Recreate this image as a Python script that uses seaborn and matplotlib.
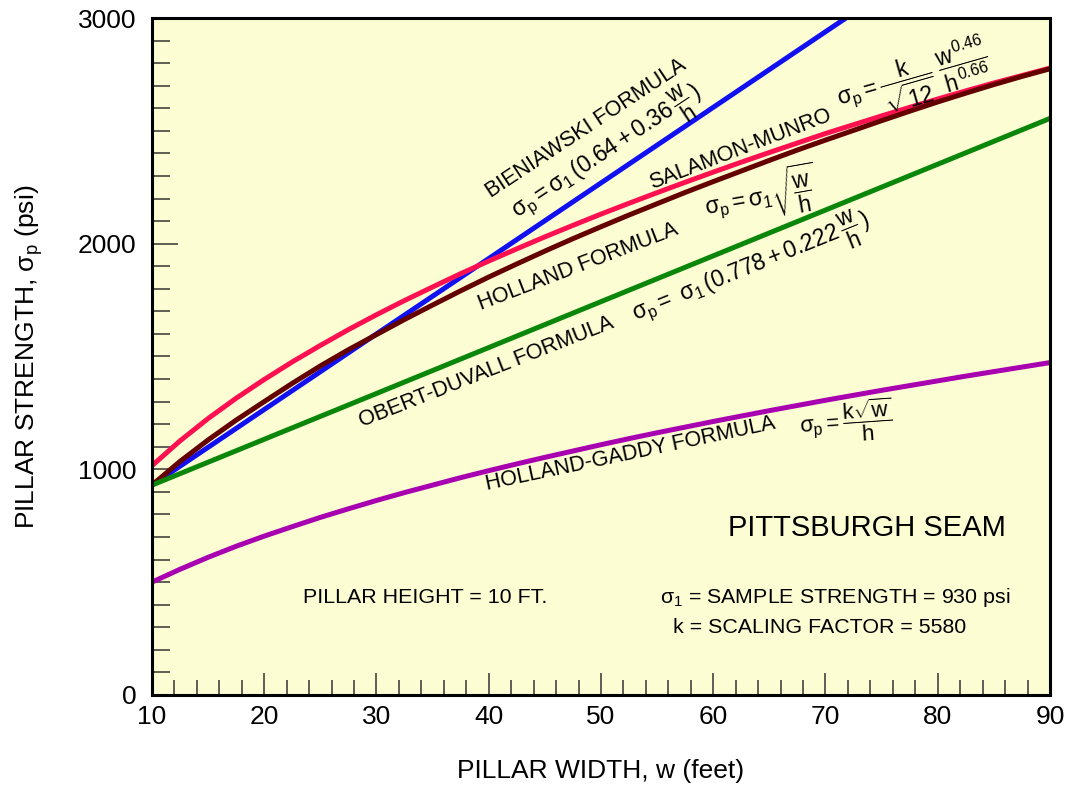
import matplotlib
matplotlib.use("Agg")
from matplotlib import pyplot as plt
from matplotlib.ticker import MultipleLocator
import pandas as pd
import seaborn as sns

# pillar width (ft) and strength (psi)
width = [10, 12.5, 15, 17.5, 20, 22.5, 25, 27.5, 30, 32.5, 35, 37.5, 40, 42.5, 45, 47.5, 50,
         52.5, 55, 57.5, 60, 62.5, 65, 67.5, 70, 72.5, 75, 77.5, 80, 82.5, 85, 87.5, 90]
bien_width = [10, 20, 30, 40, 50, 60, 70, 75]
bieniawski = [930, 1265, 1600, 1934, 2269, 2604, 2939, 3106]
salamon = [1016, 1126, 1225, 1315, 1398, 1476, 1549, 1619, 1685, 1748, 1808, 1867, 1923,
           1977, 2030, 2081, 2131, 2179, 2226, 2272, 2317, 2361, 2404, 2446, 2488, 2527,
           2566, 2604, 2641, 2677, 2712, 2745, 2778]
holland = [930, 1035, 1130, 1218, 1300, 1381, 1458, 1530, 1597, 1664, 1728, 1791, 1852,
           1910, 1967, 2022, 2075, 2127, 2177, 2227, 2275, 2322, 2369, 2415, 2459, 2502,
           2545, 2587, 2628, 2667, 2705, 2741, 2775]
obert_width = [10, 30, 50, 70, 90]
obert = [930, 1336, 1743, 2149, 2555]
gaddy = [500, 557, 610, 659, 704, 746, 787, 825, 862, 897, 930, 963, 994, 1024, 1053, 1081,
         1109, 1136, 1162, 1187, 1212, 1236, 1260, 1283, 1306, 1328, 1350, 1371, 1392, 1413,
         1433, 1453, 1473]

colors = {
    "Bieniawski": "#1010F0",
    "Salamon-Munro": "#FF1050",
    "Holland": "#640000",
    "Obert-Duvall": "#0A870A",
    "Holland-Gaddy": "#A800B0",
}

frames = [
    pd.DataFrame({"width": bien_width, "strength": bieniawski, "formula": "Bieniawski"}),
    pd.DataFrame({"width": width, "strength": salamon, "formula": "Salamon-Munro"}),
    pd.DataFrame({"width": width, "strength": holland, "formula": "Holland"}),
    pd.DataFrame({"width": obert_width, "strength": obert, "formula": "Obert-Duvall"}),
    pd.DataFrame({"width": width, "strength": gaddy, "formula": "Holland-Gaddy"}),
]
df = pd.concat(frames, ignore_index=True)

sns.set_theme(style="ticks")
plt.rcParams["font.family"] = ["Liberation Sans", "DejaVu Sans"]
plt.rcParams["mathtext.fontset"] = "custom"
plt.rcParams["mathtext.rm"] = "Liberation Sans"
plt.rcParams["mathtext.it"] = "Liberation Sans"
plt.rcParams["mathtext.bf"] = "Liberation Sans:bold"
plt.rcParams["text.color"] = "black"
plt.rcParams["axes.labelcolor"] = "black"
plt.rcParams["xtick.color"] = "black"
plt.rcParams["ytick.color"] = "black"

fig = plt.figure(figsize=(10.7, 7.93), dpi=100)
ax = fig.add_axes([0.142, 0.1236, 0.8393, 0.8537])
ax.set_facecolor("#FDFDD4")

sns.lineplot(data=df, x="width", y="strength", hue="formula", palette=colors,
             linewidth=3.6, legend=False, estimator=None, sort=False, ax=ax)

ax.set_xlim(10, 90)
ax.set_ylim(0, 3000)
ax.xaxis.set_major_locator(MultipleLocator(10))
ax.xaxis.set_minor_locator(MultipleLocator(2))
ax.yaxis.set_major_locator(MultipleLocator(1000))
ax.yaxis.set_minor_locator(MultipleLocator(100))
ax.tick_params(axis="x", which="major", direction="in", length=16, width=1.1, color="#333333",
               labelsize=19, pad=7)
ax.tick_params(axis="x", which="minor", direction="in", length=11, width=1.1, color="#333333")
ax.tick_params(axis="y", which="major", direction="in", length=19, width=1.1, color="#333333",
               labelsize=19, pad=11)
ax.tick_params(axis="y", which="minor", direction="in", length=13, width=1.1, color="#333333")
for s in ax.spines.values():
    s.set_linewidth(2.2)
    s.set_color("black")

ax.set_xlabel("PILLAR WIDTH, w (feet)", fontsize=19, labelpad=22)
ax.set_ylabel(r"PILLAR STRENGTH, $\sigma_\mathrm{p}$ (psi)", fontsize=19, labelpad=24)

# curve labels
lab = dict(fontsize=15.5, ha="center", va="center", rotation_mode="anchor")
eq = dict(fontsize=16.5, ha="center", va="center", rotation_mode="anchor")
ax.text(48.7, 2512, "BIENIAWSKI FORMULA", rotation=33.5, **lab)
ax.text(50.7, 2400, r"$\sigma_p = \sigma_1\,(0.64 + 0.36\,\dfrac{w}{h}\,)$", rotation=33.5, **eq)
ax.text(62.4, 2420, "SALAMON-MUNRO", rotation=21, **lab)
ax.text(77.8, 2728, r"$\sigma_p = \dfrac{k}{\sqrt{12}}\ \dfrac{w^{0.46}}{h^{0.66}}$", rotation=16, **eq)
ax.text(48.0, 1896, "HOLLAND FORMULA", rotation=21, **lab)
ax.text(64.2, 2215, r"$\sigma_p = \sigma_1\sqrt{\dfrac{w}{h}}$", rotation=10, **eq)
ax.text(39.8, 1431, "OBERT-DUVALL FORMULA", rotation=21.5, **lab)
ax.text(63.5, 1883, r"$\sigma_p =\ \sigma_1\,(0.778 + 0.222\,\dfrac{w}{h}\,)$", rotation=22, **eq)
ax.text(52.6, 1068, "HOLLAND-GADDY FORMULA", rotation=12, **lab)
ax.text(71.8, 1210, r"$\sigma_p = \dfrac{k\sqrt{w}}{h}$", rotation=4, fontsize=16,
        ha="center", va="center", rotation_mode="anchor")

ax.text(73.7, 740, "PITTSBURGH SEAM", fontsize=21, ha="center", va="center")
ax.text(34.3, 430, "PILLAR HEIGHT = 10 FT.", fontsize=15.4, ha="center", va="center")
ax.text(55.3, 430, r"$\sigma_1$ = SAMPLE STRENGTH = 930 psi", fontsize=15.4, ha="left", va="center")
ax.text(56.4, 301, "k = SCALING FACTOR = 5580", fontsize=15.4, ha="left", va="center")

fig.savefig("out.png", dpi=100)
